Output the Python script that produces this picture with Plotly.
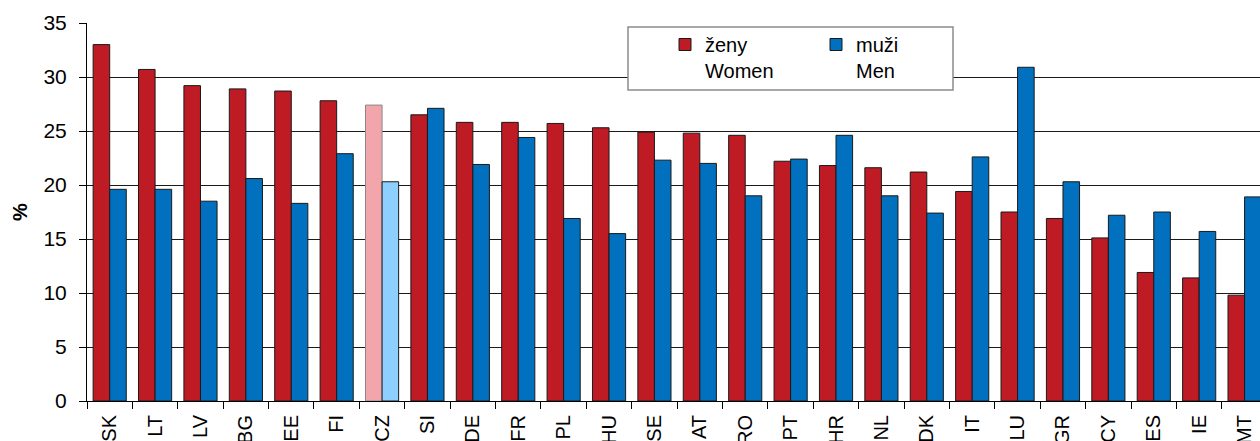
import plotly.graph_objects as go

countries = ["SK", "LT", "LV", "BG", "EE", "FI", "CZ", "SI", "DE", "FR", "PL", "HU", "SE",
             "AT", "RO", "PT", "HR", "NL", "DK", "IT", "LU", "GR", "CY", "ES", "IE", "MT"]
women = [33.0, 30.7, 29.2, 28.9, 28.7, 27.8, 27.4, 26.5, 25.8, 25.8, 25.7, 25.3, 24.9,
         24.8, 24.6, 22.2, 21.8, 21.6, 21.2, 19.4, 17.5, 16.9, 15.1, 11.9, 11.4, 9.8]
men = [19.6, 19.6, 18.5, 20.6, 18.3, 22.9, 20.3, 27.1, 21.9, 24.4, 16.9, 15.5, 22.3,
       22.0, 19.0, 22.4, 24.6, 19.0, 17.4, 22.6, 30.9, 20.3, 17.2, 17.5, 15.7, 18.9]
y_ticks = [0, 5, 10, 15, 20, 25, 30, 35]

RED, BLUE = "#BE1B24", "#0070BF"
RED_HI, BLUE_HI = "#F2A6AB", "#8DD0FF"
highlight = "CZ"

women_colors = [RED_HI if c == highlight else RED for c in countries]
men_colors = [BLUE_HI if c == highlight else BLUE for c in countries]
women_lines = ["#888888" if c == highlight else "#1a1a1a" for c in countries]

FONT = "Liberation Sans, Arial, sans-serif"

fig = go.Figure()
fig.add_trace(go.Bar(x=countries, y=women, name="ženy<br>Women",
                     marker=dict(color=women_colors, line=dict(color=women_lines, width=1))))
fig.add_trace(go.Bar(x=countries, y=men, name="muži<br>Men",
                     marker=dict(color=men_colors, line=dict(color="#1a1a1a", width=1))))

W, H = 1260, 441
ML, MR, MT_, MB = 87, 0, 23, 40
pw, ph = W - ML - MR, H - MT_ - MB

def px_x(x):
    return (x - ML) / pw

def px_y(y):
    return (H - MB - y) / ph

fig.update_layout(
    width=W, height=H,
    margin=dict(l=ML, r=MR, t=MT_, b=MB, pad=0, autoexpand=False),
    paper_bgcolor="white", plot_bgcolor="white",
    font=dict(family=FONT, size=20, color="black"),
    barmode="group", bargap=0.27, bargroupgap=0,
    showlegend=True,
    legend=dict(orientation="h", xref="paper", yref="paper",
                x=px_x(665), y=px_y(25), xanchor="left", yanchor="top",
                bgcolor="rgba(0,0,0,0)", borderwidth=0, valign="top",
                entrywidth=106, entrywidthmode="pixels",
                font=dict(family=FONT, size=20, color="black"),
                traceorder="normal"),
    shapes=[dict(type="rect", xref="paper", yref="paper",
                 x0=px_x(628), x1=px_x(953), y0=px_y(90), y1=px_y(27),
                 line=dict(color="#8c8c8c", width=1.5), fillcolor="white", layer="above")],
)
fig.update_xaxes(
    type="category", range=[-0.5, 25.34],
    showline=True, linecolor="black", linewidth=1,
    ticks="outside", tickson="boundaries", ticklen=7, tickcolor="black",
    ticklabelstandoff=5,
    tickangle=-90, showgrid=False,
    tickfont=dict(family=FONT, size=20, color="black"),
)
fig.update_yaxes(
    range=[0, 35], tickvals=y_ticks, ticktext=[str(v) for v in y_ticks],
    showline=True, linecolor="black", linewidth=1,
    ticks="outside", ticklen=7, tickcolor="black", ticklabelstandoff=8,
    showgrid=True, gridcolor="#1a1a1a", gridwidth=1, zeroline=False,
    tickfont=dict(family=FONT, size=21, color="black"),
    title=dict(text="<b>%</b>", font=dict(family=FONT, size=20, color="black"), standoff=10),
)

fig.write_html("out.html", config={"displayModeBar": False},
               post_script="document.body.style.margin='0';")
